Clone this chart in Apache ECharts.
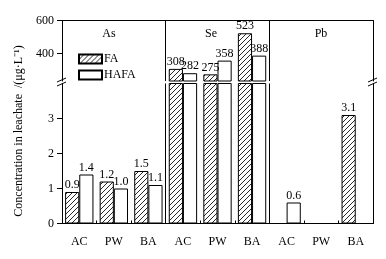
<!DOCTYPE html>
<html><head><meta charset="utf-8">
<script src="https://cdn.jsdelivr.net/npm/echarts@6/dist/echarts.min.js"></script>
<style>html,body{margin:0;padding:0;background:#fff}#c{width:386px;height:259px}</style>
</head><body><div id="c"></div>
<script>
const categories = ['AC','PW','BA','AC','PW','BA','AC','PW','BA'];
const panels = ['As','Se','Pb'];
const seriesNames = ['FA','HAFA'];
const faValues = [0.9, 1.2, 1.5, 308, 275, 523, null, null, 3.1];
const hafaValues = [1.4, 1.0, 1.1, 282, 358, 388, 0.6, null, null];
const lowerTicks = [0, 1, 2, 3];
const upperTicks = [400, 600];
const lowerRange = [0, 4];
const upperRange = [235, 600];
const yTitle = 'Concentration in leachate  /(μg·L⁻¹)';

const FONT = 'Liberation Serif, Times New Roman, serif';

function hatch() {
  const s = 5;
  const c = document.createElement('canvas');
  c.width = s; c.height = s;
  const g = c.getContext('2d');
  g.fillStyle = '#fff'; g.fillRect(0, 0, s, s);
  g.strokeStyle = '#111'; g.lineWidth = 0.9;
  g.beginPath();
  g.moveTo(0, s); g.lineTo(s, 0);
  g.moveTo(-1, 1); g.lineTo(1, -1);
  g.moveTo(s - 1, s + 1); g.lineTo(s + 1, s - 1);
  g.stroke();
  return c;
}
const hatchPattern = { image: hatch(), repeat: 'repeat' };

const fmt = v => (v < 10 ? v.toFixed(1) : String(Math.round(v)));

function lowerData(vals) {
  return vals.map(v => v == null ? null : ({ value: v, label: { show: v <= lowerRange[1] } }));
}
function upperData(vals) {
  return vals.map(v => (v == null || v < upperRange[0]) ? null : v);
}

const styles = [
  { color: hatchPattern, borderColor: '#000', borderWidth: 1 },
  { color: '#fff', borderColor: '#000', borderWidth: 1 }
];
const valuesBySeries = [faValues, hafaValues];

const labelCfg = {
  show: true, position: 'top', distance: 1,
  color: '#000', fontFamily: FONT, fontSize: 12,
  formatter: p => fmt(p.value)
};

const splitCfg = {
  show: true,
  interval: (i) => i === 3 || i === 6,
  lineStyle: { color: '#000', width: 1 }
};

const series = [];
seriesNames.forEach((name, k) => {
  series.push({
    name, type: 'bar', xAxisIndex: 0, yAxisIndex: 0,
    barGap: '0%', barCategoryGap: '18%',
    itemStyle: styles[k], label: labelCfg,
    data: lowerData(valuesBySeries[k])
  });
});
seriesNames.forEach((name, k) => {
  series.push({
    name, type: 'bar', xAxisIndex: 1, yAxisIndex: 2,
    barGap: '0%', barCategoryGap: '18%',
    itemStyle: styles[k], label: labelCfg,
    data: upperData(valuesBySeries[k])
  });
});

const black = { color: '#000', width: 1 };

const option = {
  animation: false,
  backgroundColor: '#fff',
  textStyle: { fontFamily: FONT },
  grid: [
    { left: 62, right: 13, top: 83.5, bottom: 35.5 },
    { left: 62, right: 13, top: 20.5, height: 60.5 }
  ],
  legend: {
    data: seriesNames,
    orient: 'vertical', left: 73, top: 48,
    itemWidth: 23, itemHeight: 9, itemGap: 4,
    icon: 'rect',
    textStyle: { color: '#000', fontFamily: FONT, fontSize: 12, padding: [0, 0, 0, -3] }
  },
  xAxis: [
    {
      type: 'category', gridIndex: 0, data: categories, position: 'bottom',
      axisLine: { show: true, onZero: false, lineStyle: black },
      axisTick: { show: true, inside: true, length: 3, interval: 0, lineStyle: black },
      axisLabel: { color: '#000', fontFamily: FONT, fontSize: 12, margin: 12, interval: 0 },
      splitLine: splitCfg
    },
    {
      type: 'category', gridIndex: 1, data: categories, position: 'top',
      axisLine: { show: true, onZero: false, lineStyle: black },
      axisTick: { show: false }, axisLabel: { show: false },
      splitLine: splitCfg
    }
  ],
  yAxis: [
    {
      type: 'value', gridIndex: 0, position: 'left', min: lowerRange[0], max: lowerRange[1], interval: 1,
      axisLine: { show: true, onZero: false, lineStyle: black },
      axisTick: { show: true, length: 5, customValues: lowerTicks, lineStyle: black },
      axisLabel: { color: '#000', fontFamily: FONT, fontSize: 12, margin: 8, customValues: lowerTicks },
      splitLine: { show: false }
    },
    {
      type: 'value', gridIndex: 0, position: 'right', min: 0, max: 1,
      axisLine: { show: true, onZero: false, lineStyle: black },
      axisTick: { show: false }, axisLabel: { show: false }, splitLine: { show: false }
    },
    {
      type: 'value', gridIndex: 1, position: 'left', min: upperRange[0], max: upperRange[1],
      axisLine: { show: true, onZero: false, lineStyle: black },
      axisTick: { show: true, length: 5, customValues: upperTicks, lineStyle: black },
      axisLabel: { color: '#000', fontFamily: FONT, fontSize: 12, margin: 8, customValues: upperTicks },
      splitLine: { show: false }
    },
    {
      type: 'value', gridIndex: 1, position: 'right', min: 0, max: 1,
      axisLine: { show: true, onZero: false, lineStyle: black },
      axisTick: { show: false }, axisLabel: { show: false }, splitLine: { show: false }
    }
  ],
  series,
  graphic: [
    { type: 'text', x: 19, y: 131, rotation: Math.PI / 2,
      style: { text: yTitle, fill: '#000', font: '12px ' + FONT, align: 'center', verticalAlign: 'middle' } },
    { type: 'text', x: 109, y: 34, style: { text: panels[0], fill: '#000', font: '12px ' + FONT, align: 'center', verticalAlign: 'middle' } },
    { type: 'text', x: 211, y: 34, style: { text: panels[1], fill: '#000', font: '12px ' + FONT, align: 'center', verticalAlign: 'middle' } },
    { type: 'text', x: 321, y: 34, style: { text: panels[2], fill: '#000', font: '12px ' + FONT, align: 'center', verticalAlign: 'middle' } },
    { type: 'rect', shape: { x: 57, y: 79, width: 10, height: 6 }, style: { fill: '#fff' } },
    { type: 'line', shape: { x1: 57, y1: 82, x2: 66, y2: 78 }, style: { stroke: '#000', lineWidth: 1 } },
    { type: 'line', shape: { x1: 57, y1: 86, x2: 66, y2: 82 }, style: { stroke: '#000', lineWidth: 1 } },
    { type: 'rect', shape: { x: 368, y: 79, width: 10, height: 6 }, style: { fill: '#fff' } },
    { type: 'line', shape: { x1: 368, y1: 82, x2: 377, y2: 78 }, style: { stroke: '#000', lineWidth: 1 } },
    { type: 'line', shape: { x1: 368, y1: 86, x2: 377, y2: 82 }, style: { stroke: '#000', lineWidth: 1 } }
  ]
};

const chart = echarts.init(document.getElementById('c'), null, { renderer: 'canvas' });
chart.setOption(option);
</script>
</body></html>
